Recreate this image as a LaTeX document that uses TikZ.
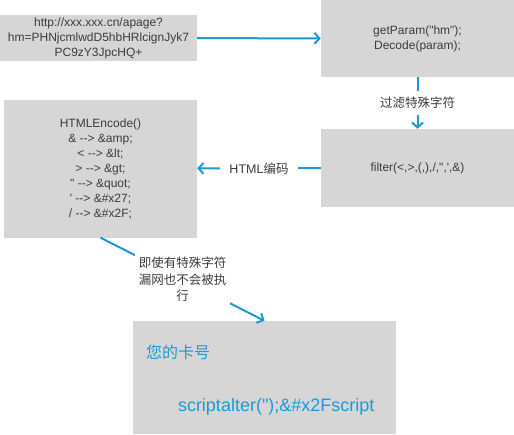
\documentclass[tikz,border=0pt]{standalone}
\usepackage{fontspec}
\setmainfont{Liberation Sans}[Ligatures=TeXOff]
\newfontfamily\cjk{Noto Sans CJK SC}
\usetikzlibrary{arrows.meta}
\usetikzlibrary{positioning}

\definecolor{boxgray}{HTML}{D6D6D6}
\definecolor{linkblue}{HTML}{1A9BD7}
\definecolor{textgray}{HTML}{3C3C3C}

\tikzset{
  box/.style={fill=boxgray,draw=none,align=center,text=textgray,inner sep=0pt,
    font=\fontsize{12}{15}\selectfont},
  link/.style={draw=linkblue,line width=2pt,-{Straight Barb[length=5pt,width=11pt]}},
  lbl/.style={fill=white,text=textgray,inner xsep=9pt,inner ysep=6pt,align=center,
    font=\fontsize{12.5}{16.5}\selectfont},
}

\begin{document}
\begin{tikzpicture}[x=1pt,y=-1pt]
\useasboundingbox (0,0) rectangle (514,434);

\node[box,minimum width=197pt,minimum height=46pt] (url) at (98.5,38)
  {http://xxx.xxx.cn/apage?\\hm=PHNjcmlwdD5hbHRlcignJyk7\\PC9zY3JpcHQ+};
\node[box,minimum width=193pt,minimum height=77pt] (decode) at (417.5,38.5)
  {getParam("hm");\\Decode(param);};
\node[box,minimum width=193pt,minimum height=78pt] (filter) at (417.5,168)
  {filter(<,>,(,),/,",',\&)};
\node[box,minimum width=193pt,minimum height=138pt] (encode) at (100.5,168.5)
  {HTMLEncode()\\\& --> \&amp;\\< --> \&lt;\\> --> \&gt;\\" --> \&quot;\\' --> \&\#x27;\\/ --> \&\#x2F;};
\node[box,minimum width=263pt,minimum height=113pt] (card) at (264.5,377.5) {};

% text inside the card
\node[anchor=west,inner sep=0pt,text=linkblue,font=\fontsize{16}{16}\selectfont\cjk] (cardno)
  at ([xshift=13pt,yshift=-32pt]card.north west) {您的卡号};
\node[anchor=west,inner sep=0pt,text=linkblue,font=\fontsize{18}{18}\selectfont] (payload)
  at ([xshift=45pt,yshift=-86pt]card.north west) {scriptalter(");\&\#x2Fscript};

\draw[link] (url) -- (decode);
\draw[link] (decode) -- node[lbl,font=\fontsize{12.5}{16.5}\selectfont\cjk] (lfilter) {过滤特殊字符} (filter);
\draw[link] (filter) -- node[lbl] (lencode) {HTML{\cjk 编码}} (encode);
\draw[link] (encode.south) -- node[lbl,inner xsep=4pt,inner ysep=4pt,font=\fontsize{12.5}{16.5}\selectfont\cjk] (lsafe)
  {即使有特殊字符\\漏网也不会被执\\行} (card.north);
\end{tikzpicture}
\end{document}
